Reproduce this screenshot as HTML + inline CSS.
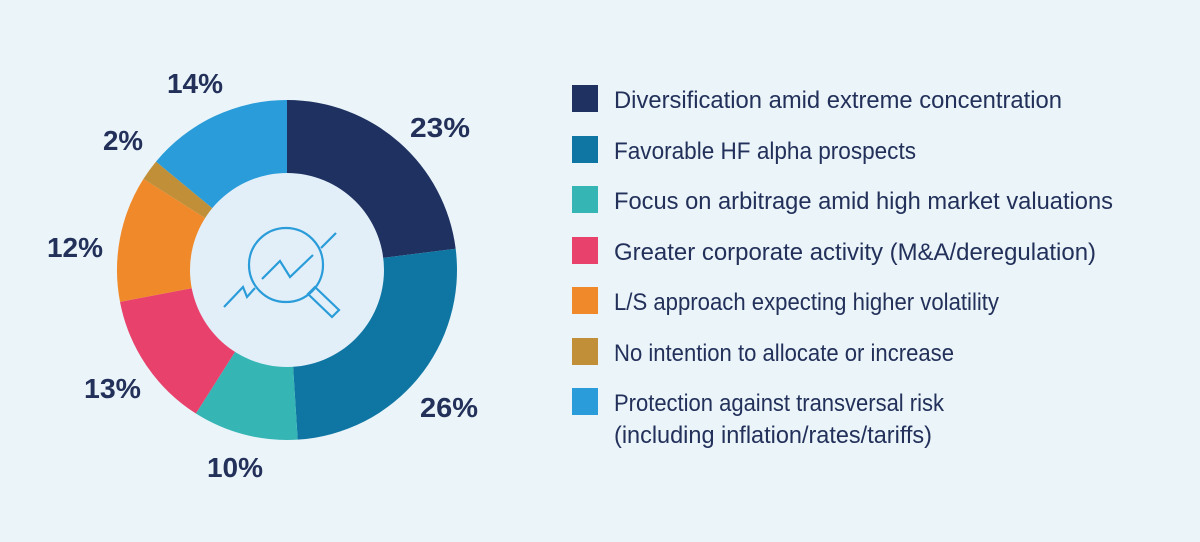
<!DOCTYPE html>
<html><head><meta charset="utf-8"><style>
html,body{margin:0;padding:0;background:#eaf4f9;}
svg{display:block}
text{font-family:"Liberation Sans",sans-serif;fill:#22305a}
.p{font-weight:bold;font-size:28px}
.l{font-size:24px}
</style></head><body>
<svg id="s" width="1200" height="542" viewBox="0 0 1200 542">
<rect width="1200" height="542" fill="#eaf4f9"/>
<g id="d"></g>
<circle cx="287" cy="270" r="97" fill="#e2eff9"/>
<g fill="none" stroke="#2a9cd9" stroke-width="2.2" stroke-linejoin="miter">
<circle cx="286" cy="265" r="37"/>
<polyline points="224,307 243,287 247,297 255,288"/>
<polyline points="262,279 280,261 290,277 313,255"/>
<line x1="321" y1="248" x2="336" y2="233"/>
<polygon points="308,294 315,287 339,310 332,317"/>
</g>
<text class="p" x="410" y="137" textLength="60" lengthAdjust="spacingAndGlyphs">23%</text>
<text class="p" x="420" y="417" textLength="58" lengthAdjust="spacingAndGlyphs">26%</text>
<text class="p" x="207" y="477" textLength="56" lengthAdjust="spacingAndGlyphs">10%</text>
<text class="p" x="84" y="398" textLength="57" lengthAdjust="spacingAndGlyphs">13%</text>
<text class="p" x="47" y="257" textLength="56" lengthAdjust="spacingAndGlyphs">12%</text>
<text class="p" x="103" y="150" textLength="40" lengthAdjust="spacingAndGlyphs">2%</text>
<text class="p" x="167" y="93" textLength="56" lengthAdjust="spacingAndGlyphs">14%</text>
<rect x="572" y="85" width="26" height="27" fill="#1e3160"/>
<rect x="572" y="136" width="26" height="27" fill="#0f76a3"/>
<rect x="572" y="186" width="26" height="27" fill="#36b5b5"/>
<rect x="572" y="237" width="26" height="27" fill="#e8416b"/>
<rect x="572" y="287" width="26" height="27" fill="#f0892a"/>
<rect x="572" y="338" width="26" height="27" fill="#c08f38"/>
<rect x="572" y="388" width="26" height="27" fill="#2a9cd9"/>
<text class="l" x="614" y="108" textLength="448" lengthAdjust="spacingAndGlyphs">Diversification amid extreme concentration</text>
<text class="l" x="614" y="159" textLength="302" lengthAdjust="spacingAndGlyphs">Favorable HF alpha prospects</text>
<text class="l" x="614" y="209" textLength="499" lengthAdjust="spacingAndGlyphs">Focus on arbitrage amid high market valuations</text>
<text class="l" x="614" y="260" textLength="482" lengthAdjust="spacingAndGlyphs">Greater corporate activity (M&amp;A/deregulation)</text>
<text class="l" x="614" y="310" textLength="385" lengthAdjust="spacingAndGlyphs">L/S approach expecting higher volatility</text>
<text class="l" x="614" y="361" textLength="340" lengthAdjust="spacingAndGlyphs">No intention to allocate or increase</text>
<text class="l" x="614" y="411" textLength="330" lengthAdjust="spacingAndGlyphs">Protection against transversal risk</text>
<text class="l" x="614" y="443" textLength="318" lengthAdjust="spacingAndGlyphs">(including inflation/rates/tariffs)</text>
</svg>
<script>
var v=[23,26,10,13,12,2,14],c=["#1e3160","#0f76a3","#36b5b5","#e8416b","#f0892a","#c08f38","#2a9cd9"];
var cx=287,cy=270,R=170,r=96,a=0,h="";
function pt(rad,ang){var t=ang*Math.PI/180;return (cx+rad*Math.sin(t)).toFixed(2)+","+(cy-rad*Math.cos(t)).toFixed(2);}
for(var i=0;i<v.length;i++){var b=a+v[i]*3.6;if(i==v.length-1)b=360;var lg=(b-a)>180?1:0;
h+='<path fill="'+c[i]+'" d="M'+pt(R,a)+' A'+R+','+R+' 0 '+lg+' 1 '+pt(R,b)+' L'+pt(r,b)+' A'+r+','+r+' 0 '+lg+' 0 '+pt(r,a)+' Z"/>';a=b;}
document.getElementById("d").innerHTML=h;
</script>
</body></html>
